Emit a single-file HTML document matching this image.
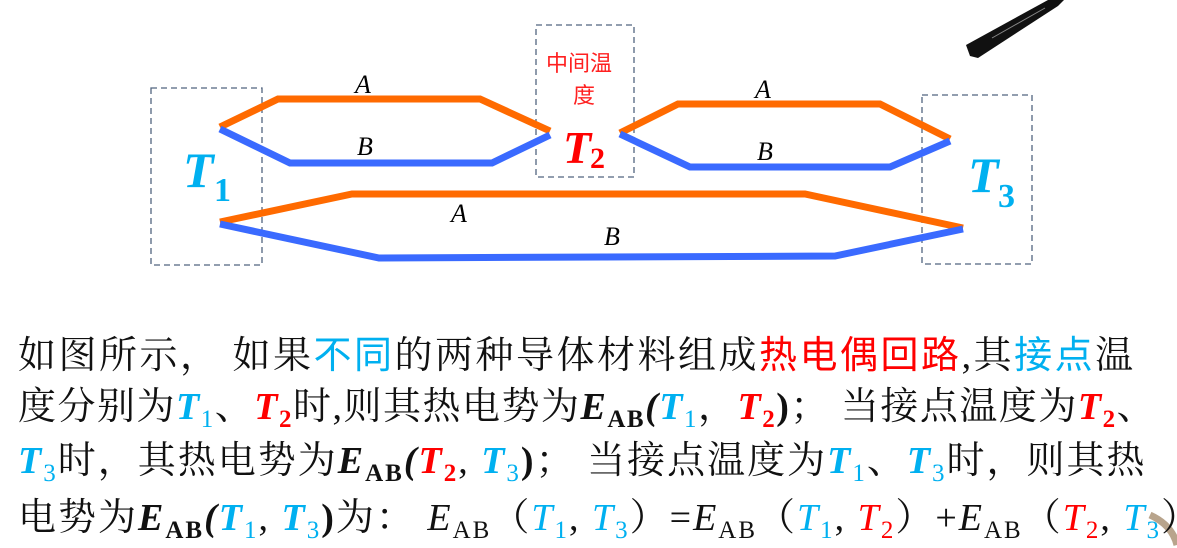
<!DOCTYPE html>
<html><head><meta charset="utf-8">
<style>
html,body{margin:0;padding:0;background:#fff;}
body{width:1177px;height:548px;position:relative;overflow:hidden;}
.ln{position:absolute;left:18px;white-space:nowrap;font-family:"Liberation Serif","Noto Serif CJK SC","Noto Sans CJK SC",serif;font-size:38px;color:#111;line-height:1;}
.c{color:#00b0f0}.r{color:#ff0000}
.bi{font-weight:bold;font-style:italic}
.i{font-style:italic}
sub{font-size:25px;vertical-align:-8px;font-style:normal;line-height:0}
.s{font-family:"Noto Sans CJK SC",sans-serif;}
</style></head><body>
<svg width="1177" height="548" style="position:absolute;left:0;top:0">
<g fill="none" stroke="#52657f" stroke-width="1.3" stroke-dasharray="6,4">
<rect x="151" y="88" width="111" height="177"/>
<rect x="536" y="25" width="98" height="152"/>
<rect x="922" y="95" width="110" height="169"/>
</g>
<g fill="none" stroke-width="7" stroke-linejoin="miter">
<polyline stroke="#ff6a00" points="220,127 278,99 480,99 550,131"/>
<polyline stroke="#3a6aff" points="220,129 290,163 492,163 550,135"/>
<polyline stroke="#ff6a00" points="620,133 678,104 880,104 950,139"/>
<polyline stroke="#3a6aff" points="620,134 690,167 890,167 950,141"/>
<polyline stroke="#ff6a00" points="220,222 352,194 805,194 963,228"/>
<polyline stroke="#3a6aff" points="220,224 379,258 835,256 963,229"/>
</g>
<g font-family="Liberation Serif,serif" font-style="italic" font-size="26" fill="#000">
<text x="355" y="93">A</text><text x="357" y="155">B</text>
<text x="755" y="98">A</text><text x="757" y="160">B</text>
<text x="451" y="222">A</text><text x="604" y="245">B</text>
</g>
<g font-family="Liberation Serif,serif" font-weight="bold">
<text x="183" y="187" font-size="50" font-style="italic" fill="#00b0f0">T</text>
<text x="214" y="201" font-size="34" fill="#00b0f0">1</text>
<text x="563" y="163" font-size="46" font-style="italic" fill="#ff0000">T</text>
<text x="590" y="168" font-size="30" fill="#ff0000">2</text>
<text x="968" y="192" font-size="50" font-style="italic" fill="#00b0f0">T</text>
<text x="998" y="207" font-size="34" fill="#00b0f0">3</text>
</g>
<text x="546" y="71" font-family="Noto Sans CJK SC,sans-serif" font-size="22" fill="#ff2020">中间温</text>
<text x="573" y="103" font-family="Noto Sans CJK SC,sans-serif" font-size="22" fill="#ff2020">度</text>
<polygon points="966,45 1048,0 1064,0 1058,6 978,58 970,56" fill="#111"/>
<line x1="992" y1="38" x2="1045" y2="8" stroke="#888" stroke-width="1"/>
<path d="M1150,515 Q1172,525 1177,545" stroke="#b8a48c" stroke-width="7" fill="none"/>
</svg>
<div class="ln" style="top:333px;letter-spacing:2.5px">如图所示，&nbsp;如果<span class="c s">不同</span>的两种导体材料组成<span class="r s">热电偶回路</span>,其<span class="c s">接点</span>温</div>
<div class="ln" style="top:388px;letter-spacing:1.5px">度分别为<span class="c bi">T<sub style="font-weight:normal">1</sub></span>、<span class="r bi">T<sub>2</sub></span>时,则其热电势为<span class="bi">E<sub style="font-style:normal">AB</sub>(</span><span class="c bi">T<sub style="font-weight:normal">1</sub></span>，<span class="r bi">T<sub>2</sub></span><b>)</b>；&nbsp;当接点温度为<span class="r bi">T<sub>2</sub></span>、</div>
<div class="ln" style="top:442px;letter-spacing:2px"><span class="c bi">T<sub style="font-weight:normal">3</sub></span>时，其热电势为<span class="bi">E<sub style="font-style:normal">AB</sub>(</span><span class="r bi">T<sub>2</sub></span>, <span class="c bi">T<sub style="font-weight:normal">3</sub></span><b>)</b>；&nbsp;当接点温度为<span class="c bi">T<sub style="font-weight:normal">1</sub></span>、<span class="c bi">T<sub style="font-weight:normal">3</sub></span>时，则其热</div>
<div class="ln" style="top:499px;letter-spacing:2px">电势为<span class="bi">E<sub style="font-style:normal">AB</sub>(</span><span class="c bi">T<sub style="font-weight:normal">1</sub></span>, <span class="c bi">T<sub style="font-weight:normal">3</sub></span><b>)</b>为：&nbsp;<span class="i">E</span><sub>AB</sub>（<span class="c i">T</span><sub class="c">1</sub>, <span class="c i">T</span><sub class="c">3</sub>）=<span class="i">E</span><sub>AB</sub>（<span class="c i">T</span><sub class="c">1</sub>, <span class="r i">T</span><sub class="r">2</sub>）+<span class="i">E</span><sub>AB</sub>（<span class="r i">T</span><sub class="r">2</sub>, <span class="c i">T</span><sub class="c">3</sub>）</div>
</body></html>
